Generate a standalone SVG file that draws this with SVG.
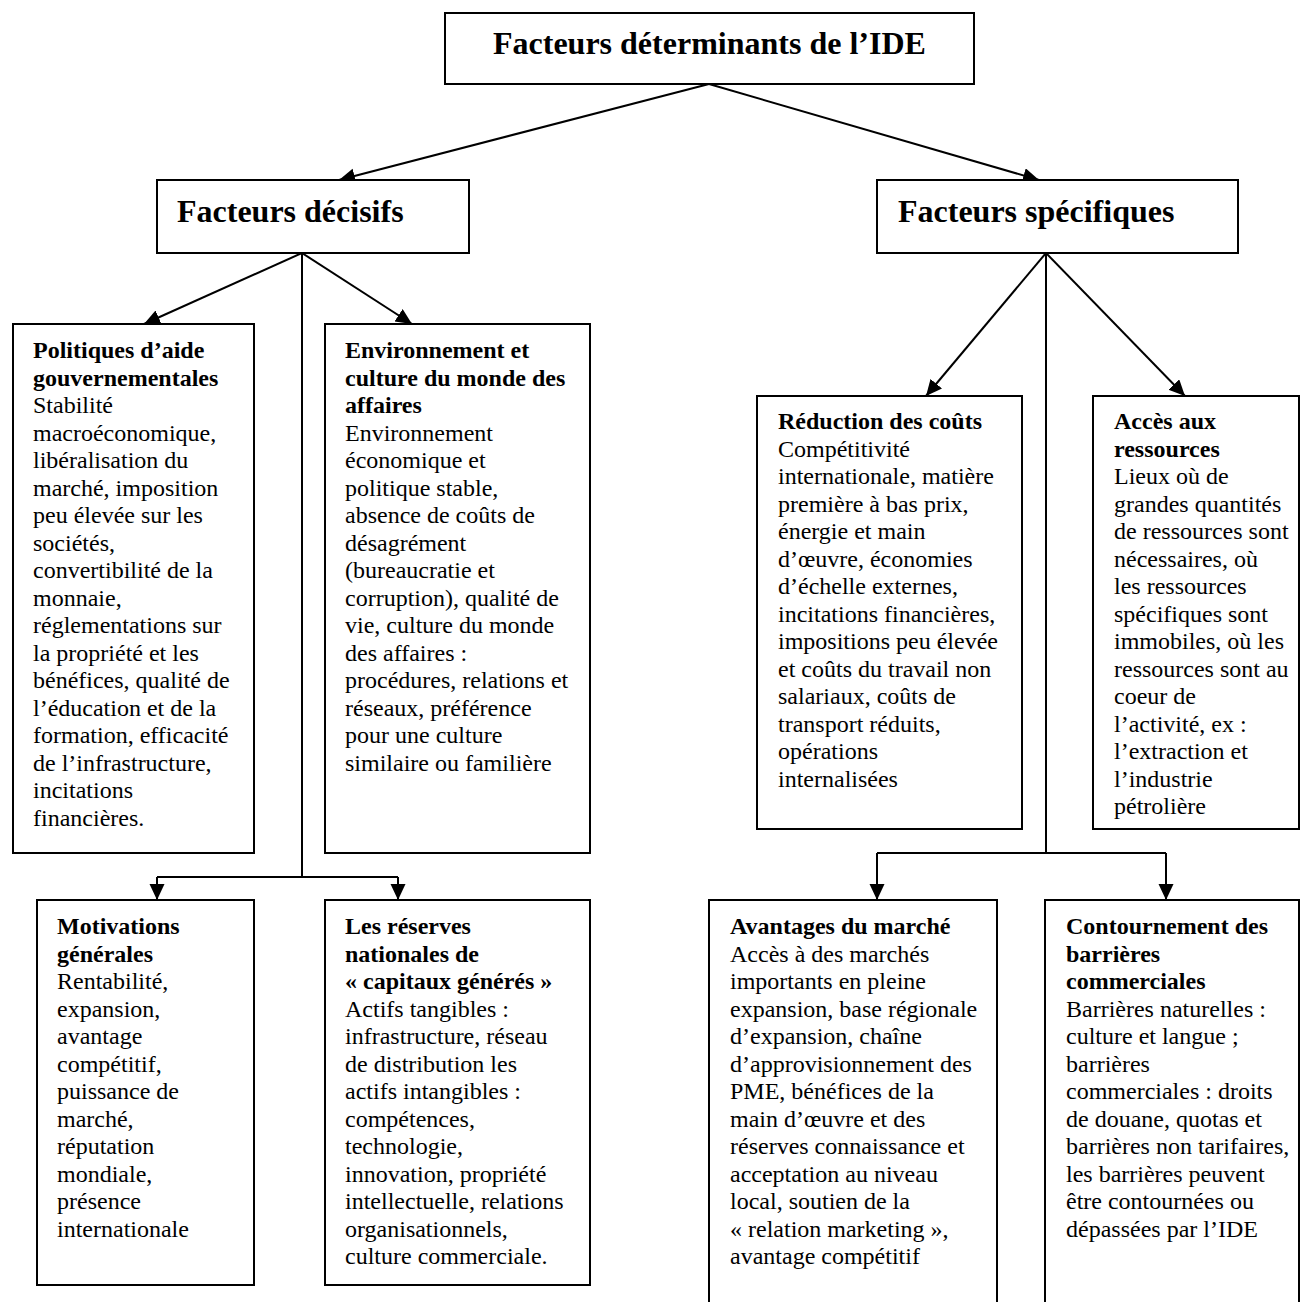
<svg xmlns="http://www.w3.org/2000/svg" width="1301" height="1302" viewBox="0 0 1301 1302">
<style>
.box{fill:#fff;stroke:#000;stroke-width:2}
.t{font-family:"Liberation Serif","Times New Roman",serif;font-size:24px;fill:#000}
.b{font-weight:bold}
.h{font-family:"Liberation Serif","Times New Roman",serif;font-size:32px;font-weight:bold;fill:#000}
.c{stroke:#000;stroke-width:2;fill:none}
</style>
<defs>
<marker id="ah" markerUnits="userSpaceOnUse" markerWidth="17" markerHeight="16" refX="16" refY="7.5" orient="auto">
<path d="M0,0 L16,7.5 L0,15 z" fill="#000"/>
</marker>
</defs>
<rect width="1301" height="1302" fill="#fff"/>
<g id="connectors">
<line class="c" x1="709" y1="84" x2="339" y2="180" marker-end="url(#ah)"/>
<line class="c" x1="709" y1="84" x2="1039" y2="180" marker-end="url(#ah)"/>
<line class="c" x1="302" y1="253" x2="144" y2="324" marker-end="url(#ah)"/>
<line class="c" x1="302" y1="253" x2="412" y2="324" marker-end="url(#ah)"/>
<polyline class="c" points="302,253 302,877"/>
<polyline class="c" points="157,877 398,877"/>
<line class="c" x1="157" y1="877" x2="157" y2="900" marker-end="url(#ah)"/>
<line class="c" x1="398" y1="877" x2="398" y2="900" marker-end="url(#ah)"/>
<line class="c" x1="1046" y1="253" x2="926" y2="396" marker-end="url(#ah)"/>
<line class="c" x1="1046" y1="253" x2="1185" y2="396" marker-end="url(#ah)"/>
<polyline class="c" points="1046,253 1046,853"/>
<polyline class="c" points="877,853 1166,853"/>
<line class="c" x1="877" y1="853" x2="877" y2="900" marker-end="url(#ah)"/>
<line class="c" x1="1166" y1="853" x2="1166" y2="900" marker-end="url(#ah)"/>
</g>
<g id="root">
<rect class="box" x="445" y="13" width="529" height="71"/>
<text class="h" x="493" y="54">Facteurs déterminants de l’IDE</text>
</g>
<g id="decisifs">
<rect class="box" x="157" y="180" width="312" height="73"/>
<text class="h" x="177" y="222">Facteurs décisifs</text>
</g>
<g id="specifiques">
<rect class="box" x="877" y="180" width="361" height="73"/>
<text class="h" x="898" y="222">Facteurs spécifiques</text>
</g>
<g id="politiques">
<rect class="box" x="13" y="324" width="241" height="529"/>
<text class="t" y="358">
<tspan class="b" x="33">Politiques d’aide</tspan>
<tspan class="b" x="33" dy="27.5">gouvernementales</tspan>
<tspan x="33" dy="27.5">Stabilité</tspan>
<tspan x="33" dy="27.5">macroéconomique,</tspan>
<tspan x="33" dy="27.5">libéralisation du</tspan>
<tspan x="33" dy="27.5">marché, imposition</tspan>
<tspan x="33" dy="27.5">peu élevée sur les</tspan>
<tspan x="33" dy="27.5">sociétés,</tspan>
<tspan x="33" dy="27.5">convertibilité de la</tspan>
<tspan x="33" dy="27.5">monnaie,</tspan>
<tspan x="33" dy="27.5">réglementations sur</tspan>
<tspan x="33" dy="27.5">la propriété et les</tspan>
<tspan x="33" dy="27.5">bénéfices, qualité de</tspan>
<tspan x="33" dy="27.5">l’éducation et de la</tspan>
<tspan x="33" dy="27.5">formation, efficacité</tspan>
<tspan x="33" dy="27.5">de l’infrastructure,</tspan>
<tspan x="33" dy="27.5">incitations</tspan>
<tspan x="33" dy="27.5">financières.</tspan>
</text>
</g>
<g id="environnement">
<rect class="box" x="325" y="324" width="265" height="529"/>
<text class="t" y="358">
<tspan class="b" x="345">Environnement et</tspan>
<tspan class="b" x="345" dy="27.5">culture du monde des</tspan>
<tspan class="b" x="345" dy="27.5">affaires</tspan>
<tspan x="345" dy="27.5">Environnement</tspan>
<tspan x="345" dy="27.5">économique et</tspan>
<tspan x="345" dy="27.5">politique stable,</tspan>
<tspan x="345" dy="27.5">absence de coûts de</tspan>
<tspan x="345" dy="27.5">désagrément</tspan>
<tspan x="345" dy="27.5">(bureaucratie et</tspan>
<tspan x="345" dy="27.5">corruption), qualité de</tspan>
<tspan x="345" dy="27.5">vie, culture du monde</tspan>
<tspan x="345" dy="27.5">des affaires :</tspan>
<tspan x="345" dy="27.5">procédures, relations et</tspan>
<tspan x="345" dy="27.5">réseaux, préférence</tspan>
<tspan x="345" dy="27.5">pour une culture</tspan>
<tspan x="345" dy="27.5">similaire ou familière</tspan>
</text>
</g>
<g id="reduction">
<rect class="box" x="757" y="396" width="265" height="433"/>
<text class="t" y="429">
<tspan class="b" x="778">Réduction des coûts</tspan>
<tspan x="778" dy="27.5">Compétitivité</tspan>
<tspan x="778" dy="27.5">internationale, matière</tspan>
<tspan x="778" dy="27.5">première à bas prix,</tspan>
<tspan x="778" dy="27.5">énergie et main</tspan>
<tspan x="778" dy="27.5">d’œuvre, économies</tspan>
<tspan x="778" dy="27.5">d’échelle externes,</tspan>
<tspan x="778" dy="27.5">incitations financières,</tspan>
<tspan x="778" dy="27.5">impositions peu élevée</tspan>
<tspan x="778" dy="27.5">et coûts du travail non</tspan>
<tspan x="778" dy="27.5">salariaux, coûts de</tspan>
<tspan x="778" dy="27.5">transport réduits,</tspan>
<tspan x="778" dy="27.5">opérations</tspan>
<tspan x="778" dy="27.5">internalisées</tspan>
</text>
</g>
<g id="acces">
<rect class="box" x="1093" y="396" width="206" height="433"/>
<text class="t" y="429">
<tspan class="b" x="1114">Accès aux</tspan>
<tspan class="b" x="1114" dy="27.5">ressources</tspan>
<tspan x="1114" dy="27.5">Lieux où de</tspan>
<tspan x="1114" dy="27.5">grandes quantités</tspan>
<tspan x="1114" dy="27.5">de ressources sont</tspan>
<tspan x="1114" dy="27.5">nécessaires, où</tspan>
<tspan x="1114" dy="27.5">les ressources</tspan>
<tspan x="1114" dy="27.5">spécifiques sont</tspan>
<tspan x="1114" dy="27.5">immobiles, où les</tspan>
<tspan x="1114" dy="27.5">ressources sont au</tspan>
<tspan x="1114" dy="27.5">coeur de</tspan>
<tspan x="1114" dy="27.5">l’activité, ex :</tspan>
<tspan x="1114" dy="27.5">l’extraction et</tspan>
<tspan x="1114" dy="27.5">l’industrie</tspan>
<tspan x="1114" dy="27.5">pétrolière</tspan>
</text>
</g>
<g id="motivations">
<rect class="box" x="37" y="900" width="217" height="385"/>
<text class="t" y="934">
<tspan class="b" x="57">Motivations</tspan>
<tspan class="b" x="57" dy="27.5">générales</tspan>
<tspan x="57" dy="27.5">Rentabilité,</tspan>
<tspan x="57" dy="27.5">expansion,</tspan>
<tspan x="57" dy="27.5">avantage</tspan>
<tspan x="57" dy="27.5">compétitif,</tspan>
<tspan x="57" dy="27.5">puissance de</tspan>
<tspan x="57" dy="27.5">marché,</tspan>
<tspan x="57" dy="27.5">réputation</tspan>
<tspan x="57" dy="27.5">mondiale,</tspan>
<tspan x="57" dy="27.5">présence</tspan>
<tspan x="57" dy="27.5">internationale</tspan>
</text>
</g>
<g id="reserves">
<rect class="box" x="325" y="900" width="265" height="385"/>
<text class="t" y="934">
<tspan class="b" x="345">Les réserves</tspan>
<tspan class="b" x="345" dy="27.5">nationales de</tspan>
<tspan class="b" x="345" dy="27.5">« capitaux générés »</tspan>
<tspan x="345" dy="27.5">Actifs tangibles :</tspan>
<tspan x="345" dy="27.5">infrastructure, réseau</tspan>
<tspan x="345" dy="27.5">de distribution les</tspan>
<tspan x="345" dy="27.5">actifs intangibles :</tspan>
<tspan x="345" dy="27.5">compétences,</tspan>
<tspan x="345" dy="27.5">technologie,</tspan>
<tspan x="345" dy="27.5">innovation, propriété</tspan>
<tspan x="345" dy="27.5">intellectuelle, relations</tspan>
<tspan x="345" dy="27.5">organisationnels,</tspan>
<tspan x="345" dy="27.5">culture commerciale.</tspan>
</text>
</g>
<g id="avantages">
<rect class="box" x="709" y="900" width="288" height="420"/>
<text class="t" y="934">
<tspan class="b" x="730">Avantages du marché</tspan>
<tspan x="730" dy="27.5">Accès à des marchés</tspan>
<tspan x="730" dy="27.5">importants en pleine</tspan>
<tspan x="730" dy="27.5">expansion, base régionale</tspan>
<tspan x="730" dy="27.5">d’expansion, chaîne</tspan>
<tspan x="730" dy="27.5">d’approvisionnement des</tspan>
<tspan x="730" dy="27.5">PME, bénéfices de la</tspan>
<tspan x="730" dy="27.5">main d’œuvre et des</tspan>
<tspan x="730" dy="27.5">réserves connaissance et</tspan>
<tspan x="730" dy="27.5">acceptation au niveau</tspan>
<tspan x="730" dy="27.5">local, soutien de la</tspan>
<tspan x="730" dy="27.5">« relation marketing »,</tspan>
<tspan x="730" dy="27.5">avantage compétitif</tspan>
</text>
</g>
<g id="contournement">
<rect class="box" x="1045" y="900" width="254" height="420"/>
<text class="t" y="934">
<tspan class="b" x="1066">Contournement des</tspan>
<tspan class="b" x="1066" dy="27.5">barrières</tspan>
<tspan class="b" x="1066" dy="27.5">commerciales</tspan>
<tspan x="1066" dy="27.5">Barrières naturelles :</tspan>
<tspan x="1066" dy="27.5">culture et langue ;</tspan>
<tspan x="1066" dy="27.5">barrières</tspan>
<tspan x="1066" dy="27.5">commerciales : droits</tspan>
<tspan x="1066" dy="27.5">de douane, quotas et</tspan>
<tspan x="1066" dy="27.5">barrières non tarifaires,</tspan>
<tspan x="1066" dy="27.5">les barrières peuvent</tspan>
<tspan x="1066" dy="27.5">être contournées ou</tspan>
<tspan x="1066" dy="27.5">dépassées par l’IDE</tspan>
</text>
</g>
</svg>
